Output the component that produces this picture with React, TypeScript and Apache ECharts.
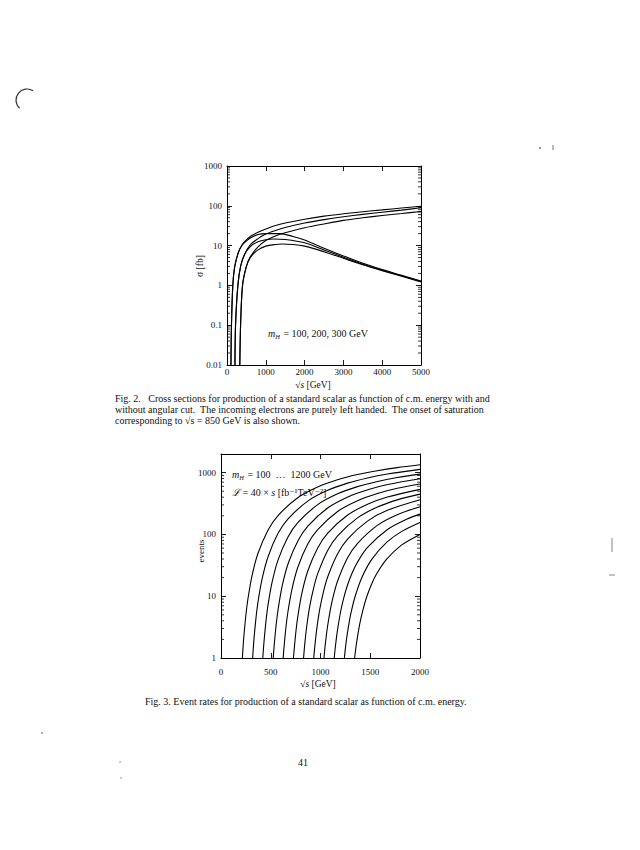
import React, { useEffect, useRef } from "react";
import * as echarts from "echarts";

// ---------- Fig. 2 data: cross sections sigma [fb] vs sqrt(s) [GeV] ----------
const sigmaNoCut100: [number, number][] = [[102,0.01],[115,0.1],[150,1],[200,3],[300,7],[400,11],[500,14],[600,17],[800,21.5],[1000,26],[1250,32],[1500,37],[2000,46],[2500,55],[3000,63],[3500,71],[4000,79],[4500,88],[5000,97]];
const sigmaCut100: [number, number][] = [[102,0.01],[115,0.1],[150,1],[200,3],[300,7],[400,10.5],[500,13],[600,15.5],[800,19],[1000,20],[1370,20],[1700,17],[2000,13.8],[2500,8.6],[3000,5.5],[3500,3.6],[4000,2.5],[4500,1.8],[5000,1.28]];
const sigmaNoCut200: [number, number][] = [[205,0.01],[220,0.1],[280,1],[350,3],[450,6],[600,10.5],[800,15],[1000,19.5],[1250,24],[1500,28.5],[2000,37],[2500,45],[3000,53],[3500,61],[4000,69],[4500,78],[5000,89]];
const sigmaCut200: [number, number][] = [[205,0.01],[220,0.1],[280,1],[350,3],[450,5.9],[600,9.5],[800,12.5],[1000,14],[1200,14.7],[1500,14.2],[2000,11.8],[2500,7.8],[3000,5.1],[3500,3.4],[4000,2.4],[4500,1.75],[5000,1.25]];
const sigmaNoCut300: [number, number][] = [[330,0.01],[350,0.1],[400,1],[500,3],[600,5.2],[800,9.3],[1000,13.5],[1250,17.5],[1500,21],[2000,28],[2500,35],[3000,43],[3500,50],[4000,57],[4500,64],[5000,72]];
const sigmaCut300: [number, number][] = [[330,0.01],[350,0.1],[400,1],[500,3],[600,5],[800,7.8],[1000,9.7],[1250,10.7],[1420,11],[1700,10.7],[2000,9.7],[2500,7.0],[3000,4.8],[3500,3.3],[4000,2.35],[4500,1.7],[5000,1.22]];

const sigmaTickLabels = ["0.01", "0.1", "1", "10", "100", "1000"];

// ---------- Fig. 3 data: events vs sqrt(s) [GeV], m_H = 100 ... 1200 GeV ----------
const eventsMH100: [number, number][] = [[215,1],[221,1.43],[231,2.35],[251,5.1],[271,9.1],[311,21.2],[371,49],[471,116],[571,200],[771,392],[971,585],[1171,766],[1371,929],[1571,1074],[1771,1205],[2000,1340]];
const eventsMH200: [number, number][] = [[318,1],[332,2.08],[352,4.5],[372,8.1],[412,18.7],[472,43],[572,103],[672,177],[872,346],[1072,516],[1272,676],[1472,820],[1672,948],[2000,1127]];
const eventsMH300: [number, number][] = [[420,1],[432,1.82],[452,3.95],[472,7.1],[512,16.4],[572,38],[672,90],[772,155],[972,303],[1172,453],[1372,593],[1572,719],[1772,832],[2000,946]];
const eventsMH400: [number, number][] = [[525,1],[535,1.63],[555,3.52],[575,6.3],[615,14.7],[675,33.8],[775,80],[875,138],[1075,270],[1275,404],[1475,528],[1675,641],[2000,796]];
const eventsMH500: [number, number][] = [[625,1],[632,1.41],[652,3.06],[672,5.5],[712,12.7],[772,29.4],[872,70],[972,120],[1172,235],[1372,351],[1572,459],[1772,557],[2000,655]];
const eventsMH600: [number, number][] = [[728,1],[733,1.24],[753,2.69],[773,4.8],[813,11.2],[873,25.8],[973,61],[1073,105],[1273,206],[1473,308],[1673,403],[2000,536]];
const eventsMH700: [number, number][] = [[830,1],[842,1.69],[862,3.29],[892,6.9],[932,13.8],[972,23.2],[1072,55],[1172,95],[1372,185],[1572,277],[1772,362],[2000,448]];
const eventsMH800: [number, number][] = [[932,1],[942,1.5],[962,2.9],[992,6.1],[1032,12.2],[1072,20.5],[1172,48.6],[1272,84],[1472,164],[1672,245],[2000,363]];
const eventsMH900: [number, number][] = [[1035,1],[1051,1.82],[1071,3.26],[1101,6.3],[1131,10.4],[1171,17.5],[1271,41.4],[1371,71],[1571,140],[1771,208],[2000,281]];
const eventsMH1000: [number, number][] = [[1138,1],[1150,1.55],[1170,2.77],[1200,5.4],[1230,8.9],[1270,14.9],[1320,24.2],[1370,35.2],[1470,61],[1670,119],[1870,177],[2000,213]];
const eventsMH1100: [number, number][] = [[1240,1],[1257,1.77],[1277,2.96],[1307,5.4],[1347,9.8],[1417,20.3],[1517,39.9],[1667,75],[1817,112],[2000,156]];
const eventsMH1200: [number, number][] = [[1343,1],[1363,1.79],[1393,3.47],[1423,5.7],[1463,9.6],[1513,15.6],[1563,22.8],[1663,39.3],[1813,67],[2000,100]];

const eventTickLabels = ["1", "10", "100", "1000"];

const SERIF = "'Liberation Serif', 'DejaVu Serif', serif";
const INK = "#111";

function lineSeries(data: [number, number][], xi: number, yi: number) {
  return {
    type: "line",
    xAxisIndex: xi,
    yAxisIndex: yi,
    data,
    showSymbol: false,
    symbol: "none",
    smooth: 0.3,
    lineStyle: { color: "#000", width: 1.1 },
    silent: true,
  };
}

function logMinorTicks(expFrom: number, expTo: number, maxV: number) {
  const out: number[] = [];
  for (let e = expFrom; e <= expTo; e++) {
    for (let m = 2; m <= 9; m++) {
      const v = m * Math.pow(10, e);
      if (v < maxV) out.push(v);
    }
  }
  return out;
}

function minorTickSeries(xi: number, yi: number, values: number[], xMin: number, xMax: number) {
  return {
    type: "custom",
    xAxisIndex: xi,
    yAxisIndex: yi,
    silent: true,
    clip: false,
    z: 5,
    data: values.map((v) => [xMin, v]),
    renderItem: (_p: any, api: any) => {
      const v = api.value(1);
      const a = api.coord([xMin, v]);
      const b = api.coord([xMax, v]);
      return {
        type: "group",
        children: [
          { type: "line", shape: { x1: a[0], y1: a[1], x2: a[0] + 3, y2: a[1] }, style: { stroke: "#000", lineWidth: 0.8 } },
          { type: "line", shape: { x1: b[0] - 3, y1: b[1], x2: b[0], y2: b[1] }, style: { stroke: "#000", lineWidth: 0.8 } },
        ],
      };
    },
  };
}

const axisLine = { show: true, onZero: false, lineStyle: { color: "#000", width: 1 } };
const axisTick = { show: true, inside: true, length: 5, lineStyle: { color: "#000", width: 0.9 } };
const labelBase = { color: INK, fontFamily: SERIF, fontSize: 9 };

function xAxes(grid: number, max: number, interval: number, margin: number) {
  return [
    { type: "value", gridIndex: grid, min: 0, max, interval, position: "bottom", axisLine, axisTick, splitLine: { show: false }, axisLabel: { ...labelBase, margin, formatter: (v: number) => String(v) } },
    { type: "value", gridIndex: grid, min: 0, max, interval, position: "top", axisLine, axisTick, splitLine: { show: false }, axisLabel: { show: false } },
  ];
}

function yAxes(grid: number, min: number, max: number, labels: string[], margin: number) {
  const lo = Math.round(Math.log10(min));
  const fmt = (v: number) => {
    const l = Math.log10(v);
    const r = Math.round(l);
    if (Math.abs(l - r) > 1e-6) return "";
    return labels[r - lo] ?? "";
  };
  return [
    { type: "log", logBase: 10, gridIndex: grid, min, max, position: "left", axisLine, axisTick, splitLine: { show: false }, axisLabel: { ...labelBase, margin, formatter: fmt } },
    { type: "log", logBase: 10, gridIndex: grid, min, max, position: "right", axisLine, axisTick, splitLine: { show: false }, axisLabel: { show: false } },
  ];
}

function txt(x: number, y: number, text: string, extra: any = {}) {
  return {
    type: "text",
    x,
    y,
    silent: true,
    style: { text, fill: INK, fontFamily: SERIF, fontSize: 9, align: "left", verticalAlign: "middle", ...extra },
  };
}

const mhRich = {
  i: { fontStyle: "italic", fontFamily: SERIF, fontSize: 10, fill: INK },
  sub: { fontStyle: "italic", fontFamily: SERIF, fontSize: 6.5, fill: INK, padding: [6, 1, 0, 0] },
  n: { fontFamily: SERIF, fontSize: 10, fill: INK },
};
const nameRich = { ...mhRich, i: { ...mhRich.i, fontSize: 9.5 }, n: { ...mhRich.n, fontSize: 9.5 } };

export default function App() {
  const ref = useRef<HTMLDivElement>(null);
  useEffect(() => {
    if (!ref.current) return;
    const chart = echarts.init(ref.current, null, { renderer: "svg", width: 640, height: 850 });
    const option: any = {
      animation: false,
      backgroundColor: "#fff",
      grid: [
        { left: 227, top: 166, width: 194, height: 199, outerBoundsMode: "none", containLabel: false },
        { left: 221, top: 454, width: 199, height: 204, outerBoundsMode: "none", containLabel: false },
      ],
      xAxis: [...xAxes(0, 5000, 1000, 2), ...xAxes(1, 2000, 500, 9)],
      yAxis: [...yAxes(0, 0.01, 1000, sigmaTickLabels, 5), ...yAxes(1, 1, 2000, eventTickLabels, 5)],
      series: [
        lineSeries(sigmaNoCut100, 0, 0),
        lineSeries(sigmaCut100, 0, 0),
        lineSeries(sigmaNoCut200, 0, 0),
        lineSeries(sigmaCut200, 0, 0),
        lineSeries(sigmaNoCut300, 0, 0),
        lineSeries(sigmaCut300, 0, 0),
        minorTickSeries(0, 0, logMinorTicks(-2, 2, 1000), 0, 5000),
        lineSeries(eventsMH100, 2, 2),
        lineSeries(eventsMH200, 2, 2),
        lineSeries(eventsMH300, 2, 2),
        lineSeries(eventsMH400, 2, 2),
        lineSeries(eventsMH500, 2, 2),
        lineSeries(eventsMH600, 2, 2),
        lineSeries(eventsMH700, 2, 2),
        lineSeries(eventsMH800, 2, 2),
        lineSeries(eventsMH900, 2, 2),
        lineSeries(eventsMH1000, 2, 2),
        lineSeries(eventsMH1100, 2, 2),
        lineSeries(eventsMH1200, 2, 2),
        minorTickSeries(2, 2, logMinorTicks(0, 3, 2000), 0, 2000),
      ],
      graphic: [
        // Fig. 2 labels
        txt(268, 333, "{i|m}{sub|H}{n| = 100, 200, 300 GeV}", { rich: mhRich }),
        { ...txt(200, 266, "σ [fb]", { fontSize: 9.5, align: "center" }), rotation: Math.PI / 2 },
        txt(313, 385, "{n|√}{i|s}{n| [GeV]}", { align: "center", rich: nameRich }),
        txt(115, 398, "Fig. 2.   Cross sections for production of a standard scalar as function of c.m. energy with and", { fontSize: 10 }),
        txt(115, 409, "without angular cut.  The incoming electrons are purely left handed.  The onset of saturation", { fontSize: 10 }),
        txt(115, 420, "corresponding to √s = 850 GeV is also shown.", { fontSize: 10 }),
        // Fig. 3 labels
        txt(232, 474, "{i|m}{sub|H}{n| = 100  …  1200 GeV}", { rich: mhRich }),
        txt(232, 492, "{i|ℒ}{n| = 40 × }{i|s}{n| [fb⁻¹TeV⁻²]}", { rich: mhRich }),
        { ...txt(201, 551, "events", { fontSize: 9, align: "center" }), rotation: Math.PI / 2 },
        txt(318, 684, "{n|√}{i|s}{n| [GeV]}", { align: "center", rich: nameRich }),
        txt(145, 701, "Fig. 3. Event rates for production of a standard scalar as function of c.m. energy.", { fontSize: 10 }),
        // page number
        txt(303, 762, "41", { fontSize: 10, align: "center" }),
        // scan specks
        { type: "arc", silent: true, shape: { cx: 27, cy: 100, r: 11, startAngle: 5.3, endAngle: 2.3, clockwise: false }, style: { stroke: "#333", lineWidth: 1.2, fill: "none" } },
        { type: "circle", silent: true, shape: { cx: 540, cy: 148, r: 0.8 }, style: { fill: "#555" } },
        { type: "line", silent: true, shape: { x1: 553, y1: 145, x2: 553, y2: 150 }, style: { stroke: "#555", lineWidth: 0.8 } },
        { type: "line", silent: true, shape: { x1: 612, y1: 538, x2: 612, y2: 552 }, style: { stroke: "#666", lineWidth: 0.8 } },
        { type: "line", silent: true, shape: { x1: 609, y1: 575, x2: 615, y2: 575 }, style: { stroke: "#666", lineWidth: 0.8 } },
        { type: "circle", silent: true, shape: { cx: 42, cy: 733, r: 0.8 }, style: { fill: "#777" } },
        { type: "circle", silent: true, shape: { cx: 120, cy: 762, r: 0.7 }, style: { fill: "#777" } },
        { type: "circle", silent: true, shape: { cx: 121, cy: 778, r: 0.7 }, style: { fill: "#777" } },
      ],
    };
    chart.setOption(option);
    return () => chart.dispose();
  }, []);
  return (
    <div
      ref={ref}
      style={{ position: "absolute", left: 0, top: 0, width: 640, height: 850, background: "#fff" }}
    />
  );
}
